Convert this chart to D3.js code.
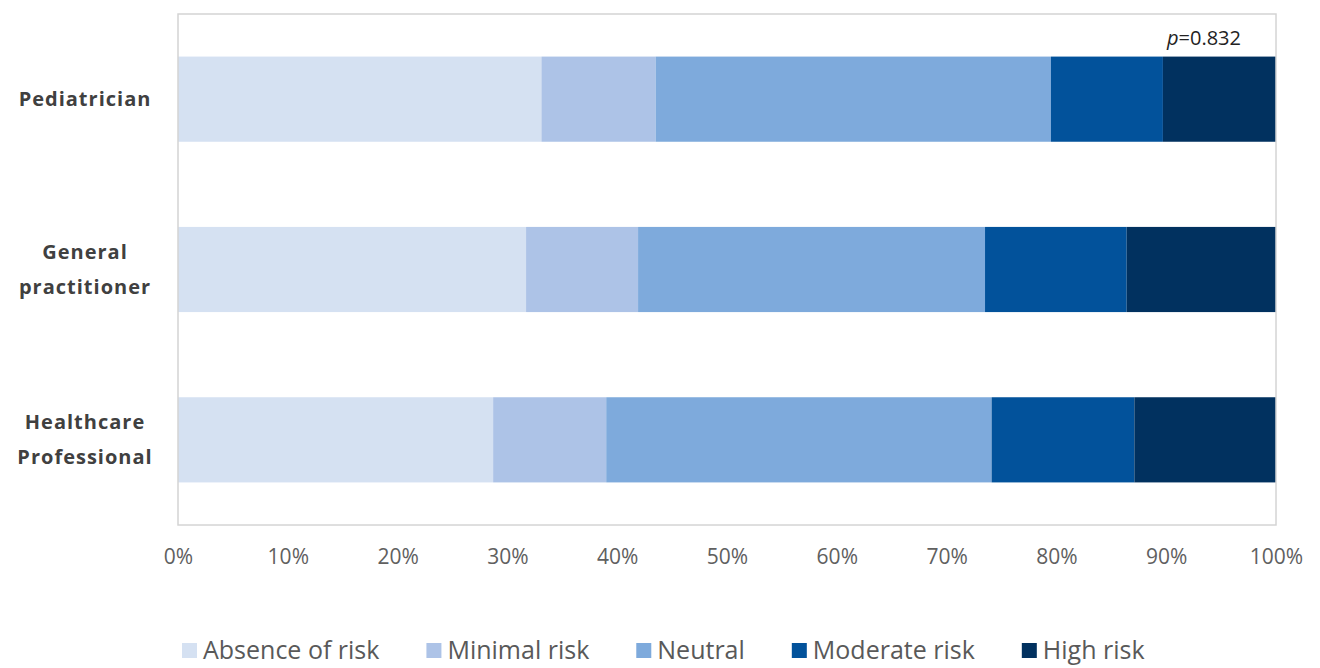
<!DOCTYPE html>
<html>
<head>
<meta charset="utf-8">
<script src="https://cdn.jsdelivr.net/npm/d3@7"></script>
<style>
  body { margin: 0; background: #fff; }
  svg { display: block; font-family: "Open Sans", "Noto Sans", sans-serif; }
</style>
</head>
<body>
<div class="chart"></div>
<script>
// data (percent of respondents)
const groups = ["Pediatrician", "General practitioner", "Healthcare Professional"];
const groupLines = [["Pediatrician"], ["General", "practitioner"], ["Healthcare", "Professional"]];
const levels = ["Absence of risk", "Minimal risk", "Neutral", "Moderate risk", "High risk"];
const absence  = [33.1, 31.7, 28.7];
const minimal  = [10.4, 10.2, 10.3];
const neutral  = [36.0, 31.6, 35.1];
const moderate = [10.2, 12.9, 13.0];
const high     = [10.3, 13.6, 12.9];
const xTicks = [0, 10, 20, 30, 40, 50, 60, 70, 80, 90, 100];
const pLabel = "0.832";

const colors = ["#d5e1f2", "#adc3e7", "#7eaadc", "#02529b", "#01315f"];

const table = groups.map((g, i) => ({
  group: g,
  "Absence of risk": absence[i],
  "Minimal risk": minimal[i],
  "Neutral": neutral[i],
  "Moderate risk": moderate[i],
  "High risk": high[i]
}));

const W = 1320, H = 668;
const margin = ({top: 14, right: 44, bottom: 143, left: 178});
const width = W - margin.left - margin.right,
      height = H - margin.top - margin.bottom;

const svg = d3.select(".chart").append("svg")
  .attr("width", W)
  .attr("height", H);

const g = svg.append("g")
  .attr("transform", `translate(${margin.left},${margin.top})`);

const xScale = d3.scaleLinear().domain([0, 100]).range([0, width]);
const yScale = d3.scaleBand().domain(groups).range([0, height]).paddingInner(0.5).paddingOuter(0.25);
const color = d3.scaleOrdinal().domain(levels).range(colors);

const stacked = d3.stack().keys(levels)(table);

g.append("g").selectAll("g")
  .data(stacked)
  .join("g")
  .attr("fill", d => color(d.key))
  .selectAll("rect")
  .data(d => d)
  .join("rect")
  .attr("x", d => xScale(d[0]))
  .attr("y", d => yScale(d.data.group))
  .attr("width", d => xScale(d[1]) - xScale(d[0]))
  .attr("height", yScale.bandwidth());

// frame
g.append("rect")
  .attr("x", 0).attr("y", 0)
  .attr("width", width).attr("height", height)
  .attr("fill", "none")
  .attr("stroke", "#d4d4d4")
  .attr("stroke-width", 1.5);

// x axis
const xAxis = d3.axisBottom(xScale)
  .tickValues(xTicks)
  .tickFormat(d => d + "%")
  .tickSize(0)
  .tickPadding(24);

g.append("g")
  .attr("class", "axis x-axis")
  .attr("transform", `translate(0, ${height})`)
  .call(xAxis)
  .call(a => a.select(".domain").remove())
  .selectAll("text")
  .attr("font-size", "21px")
  .attr("font-family", "'Open Sans', sans-serif")
  .attr("fill", "#606060");

// category labels
const catLabels = g.append("g").selectAll("text")
  .data(groups)
  .join("text")
  .attr("text-anchor", "middle")
  .attr("font-size", "20px")
  .attr("font-weight", "bold")
  .attr("fill", "#404040")
  .attr("letter-spacing", "1px");

catLabels.each(function(d, i) {
  const lines = groupLines[i];
  const cy = yScale(d) + yScale.bandwidth() / 2;
  const lh = 35;
  d3.select(this).selectAll("tspan")
    .data(lines)
    .join("tspan")
    .attr("x", -93)
    .attr("y", (l, j) => cy + (j - (lines.length - 1) / 2) * lh)
    .attr("dy", "0.35em")
    .text(l => l);
});

// p value
const pText = g.append("text")
  .attr("x", width - 35)
  .attr("y", 31)
  .attr("text-anchor", "end")
  .attr("font-size", "20px")
  .attr("fill", "#222");
pText.append("tspan").attr("font-style", "italic").text("p");
pText.append("tspan").text("=" + pLabel);

// legend
const legend = svg.append("g").attr("transform", "translate(182, 650)");
let lx = 0;
levels.forEach((lv, i) => {
  const item = legend.append("g").attr("transform", `translate(${lx},0)`);
  item.append("rect")
    .attr("x", 0).attr("y", -7)
    .attr("width", 15).attr("height", 15)
    .attr("fill", color(lv));
  const t = item.append("text")
    .attr("x", 21)
    .attr("y", 0)
    .attr("dy", "0.35em")
    .attr("font-size", "25px")
    .attr("fill", "#595959")
    .text(lv);
  lx += 21 + t.node().getComputedTextLength() + 47;
});
</script>
</body>
</html>
